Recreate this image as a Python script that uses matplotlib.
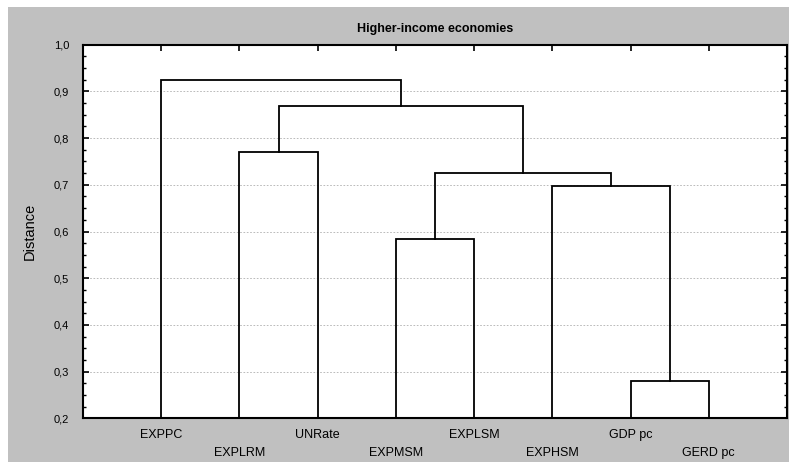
import matplotlib
matplotlib.use("Agg")
import matplotlib.pyplot as plt
from matplotlib.patches import Rectangle
from matplotlib.ticker import MultipleLocator, FuncFormatter

# ── Data ──────────────────────────────────────────────────────────────────────
LEAVES = ["EXPPC", "EXPLRM", "UNRate", "EXPMSM", "EXPLSM", "EXPHSM", "GDP pc", "GERD pc"]
# merges: (left child, right child); cluster k is named "c{k}"
MERGE_LEFT = ["GDP pc", "EXPMSM", "EXPHSM", "c1", "EXPLRM", "c4", "EXPPC"]
MERGE_RIGHT = ["GERD pc", "EXPLSM", "c0", "c2", "UNRate", "c3", "c5"]
MERGE_HEIGHT = [0.279, 0.585, 0.697, 0.725, 0.770, 0.869, 0.924]

Y_MIN, Y_MAX = 0.2, 1.0
GRAY = "#c0c0c0"

plt.rcParams["font.family"] = ["Liberation Sans", "DejaVu Sans"]

fig = plt.figure(figsize=(7.9, 4.63), dpi=100, facecolor="white")
W, H = 790, 463
fig.patches.append(Rectangle((8 / W, 1 / H), (W - 9) / W, (H - 8) / H,
                             transform=fig.transFigure, facecolor=GRAY,
                             edgecolor="none", zorder=-5))

ax = fig.add_axes([83 / W, 44.7 / H, 704 / W, 373.6 / H])
ax.set_facecolor("white")

# leaf positions 1..n, cluster x = mean of children, leaves start at the axis floor
xpos = {name: i + 1 for i, name in enumerate(LEAVES)}
ypos = {name: Y_MIN for name in LEAVES}
for k, (a, b, h) in enumerate(zip(MERGE_LEFT, MERGE_RIGHT, MERGE_HEIGHT)):
    xa, xb = xpos[a], xpos[b]
    ax.plot([xa, xa, xb, xb], [ypos[a], h, h, ypos[b]], color="black", lw=1.3,
            solid_joinstyle="miter", zorder=3)
    xpos[f"c{k}"] = (xa + xb) / 2
    ypos[f"c{k}"] = h

ax.set_xlim(0, len(LEAVES) + 1)
ax.set_ylim(Y_MIN, Y_MAX)

ax.yaxis.set_major_locator(MultipleLocator(0.1))
ax.yaxis.set_minor_locator(MultipleLocator(0.025))
ax.yaxis.set_major_formatter(FuncFormatter(lambda v, p: f"{v:.1f}".replace(".", ",")))
ax.grid(axis="y", which="major", color="#b0b0b0", linestyle=(0, (2, 2)), lw=0.6)
ax.set_axisbelow(True)

# staggered leaf labels: every second one drops to a second row
ax.set_xticks(range(1, len(LEAVES) + 1))
ax.set_xticklabels([lab if i % 2 == 0 else "\n" + lab for i, lab in enumerate(LEAVES)],
                   fontsize=9, linespacing=1.65)
ax.tick_params(axis="x", bottom=False, top=True, direction="in", length=4, width=1.2,
               pad=8)
ax.tick_params(axis="y", which="major", left=True, right=True, direction="in",
               length=4, width=1.2, labelsize=8, pad=10)
ax.tick_params(axis="y", which="minor", left=True, right=True, direction="in",
               length=2.5, width=1)

for sp in ax.spines.values():
    sp.set_linewidth(1.5)
    sp.set_color("black")

ax.set_ylabel("Distance", fontsize=10.5, labelpad=12)
ax.set_title("Higher-income economies", fontsize=9, fontweight="bold", pad=9)

fig.savefig("out.png", dpi=100, facecolor=fig.get_facecolor())
